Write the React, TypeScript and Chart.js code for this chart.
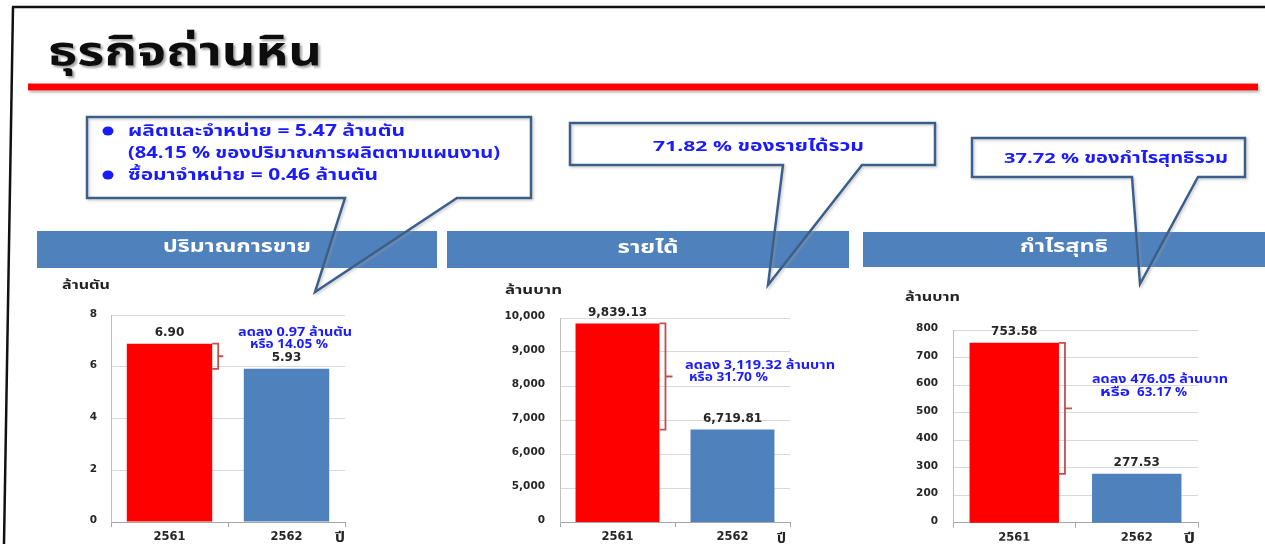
import React, { useEffect, useRef } from 'react';
import { Chart, registerables } from 'chart.js';
Chart.register(...registerables);

const years = ['2561', '2562'];
const salesValues = [6.9, 5.93];
const revenueValues = [9839.13, 6719.81];
const profitValues = [753.58, 277.53];
// axis [min, max, step]; the min tick is shown as "0" (broken axis in the original)
const salesAxis = [0, 8, 2];
const revenueAxis = [4000, 10000, 1000];
const profitAxis = [100, 800, 100];
const barColors = ['#ff0000', '#4f81bd'];

const THAI = "Tahoma, 'Noto Sans Thai', 'Loma', 'Garuda', 'Norasi', 'DejaVu Sans', sans-serif";
const NUM = "'DejaVu Sans', Verdana, sans-serif";

type Panel = {
  values: number[];
  axis: number[];
  fmt: (v: number) => string;
  left: number; top: number; width: number; height: number;
  plotLeft: number; plotRight: number; plotTop: number; plotBottom: number;
  labelPad: number;
  bracketOut: number; bracketTick: number;
};

const fmt2 = (v: number) => v.toFixed(2);
const fmtComma = (v: number) => v.toLocaleString('en-US', { minimumFractionDigits: 2, maximumFractionDigits: 2 });

const panels: Panel[] = [
  { values: salesValues, axis: salesAxis, fmt: fmt2, left: 40, top: 295, width: 320, height: 249,
    plotLeft: 111, plotRight: 345, plotTop: 312, plotBottom: 522, labelPad: 14, bracketOut: 6, bracketTick: 5 },
  { values: revenueValues, axis: revenueAxis, fmt: fmtComma, left: 490, top: 295, width: 320, height: 249,
    plotLeft: 560, plotRight: 790, plotTop: 318, plotBottom: 522, labelPad: 15, bracketOut: 6, bracketTick: 7 },
  { values: profitValues, axis: profitAxis, fmt: fmtComma, left: 880, top: 300, width: 340, height: 244,
    plotLeft: 953, plotRight: 1198, plotTop: 330, plotBottom: 526, labelPad: 15, bracketOut: 6, bracketTick: 7 },
];

function BarPanel({ p }: { p: Panel }) {
  const ref = useRef<HTMLCanvasElement>(null);
  useEffect(() => {
    if (!ref.current) return;
    const [min, max, step] = p.axis;
    const overlay = {
      id: 'overlay',
      afterDatasetsDraw(chart: any) {
        const ctx = chart.ctx;
        const meta = chart.getDatasetMeta(0);
        const ys = chart.scales.y;
        ctx.save();
        ctx.font = `bold 12px ${NUM}`;
        ctx.fillStyle = '#262626';
        ctx.textAlign = 'center';
        ctx.textBaseline = 'bottom';
        meta.data.forEach((bar: any, i: number) => {
          ctx.fillText(p.fmt(p.values[i]), bar.x, bar.y - 5);
        });
        const b0: any = meta.data[0];
        const x0 = b0.x + b0.width / 2;
        const yA = ys.getPixelForValue(p.values[0]);
        const yB = ys.getPixelForValue(p.values[1]);
        const xv = x0 + p.bracketOut;
        ctx.strokeStyle = '#c0504d';
        ctx.lineWidth = 1.8;
        ctx.beginPath();
        ctx.moveTo(x0, yA);
        ctx.lineTo(xv, yA);
        ctx.lineTo(xv, yB);
        ctx.lineTo(x0, yB);
        ctx.moveTo(xv, (yA + yB) / 2);
        ctx.lineTo(xv + p.bracketTick, (yA + yB) / 2);
        ctx.stroke();
        ctx.restore();
      },
    };
    const chart = new Chart(ref.current, {
      type: 'bar',
      data: {
        labels: years,
        datasets: [{ data: p.values, backgroundColor: barColors, borderWidth: 0, barPercentage: 0.73, categoryPercentage: 1 }],
      },
      options: {
        responsive: false,
        animation: false,
        layout: { padding: { top: p.plotTop - p.top, right: p.left + p.width - p.plotRight, left: 0, bottom: 0 } },
        plugins: { legend: { display: false }, tooltip: { enabled: false } },
        scales: {
          x: {
            grid: { display: true, drawOnChartArea: false, drawTicks: true, tickLength: 5, color: '#a6a6a6' },
            border: { color: '#a6a6a6' },
            ticks: { font: { family: NUM, size: 11.5, weight: 'bold' }, color: '#262626', padding: 3 },
            afterFit: (s: any) => { s.height = p.top + p.height - p.plotBottom; },
          },
          y: {
            min, max,
            ticks: {
              stepSize: step,
              font: { family: NUM, size: 10.5, weight: 'bold' },
              color: '#262626',
              padding: p.labelPad,
              labelOffset: -1.5,
              callback: (v: any) => (v === min ? '0' : Number(v).toLocaleString('en-US')),
            },
            grid: { color: '#d9d9d9', drawTicks: false },
            border: { color: '#bfbfbf' },
            afterFit: (s: any) => { s.width = p.plotLeft - p.left; },
          },
        },
      },
      plugins: [overlay],
    } as any);
    return () => chart.destroy();
  }, [p]);
  return (
    <canvas ref={ref} width={p.width} height={p.height}
      style={{ position: 'absolute', left: p.left, top: p.top, width: p.width, height: p.height }} />
  );
}

function T({ x, y, w, size, fill, children, anchor }: { x: number; y: number; w: number; size: number; fill: string; children: React.ReactNode; anchor?: string }) {
  return (
    <text x={x} y={y} fontSize={size} fill={fill} fontFamily={THAI} fontWeight="bold" dominantBaseline="central"
      textLength={w} lengthAdjust="spacingAndGlyphs" textAnchor={anchor || 'start'}>{children}</text>
  );
}

export default function App() {
  const blue = '#1a1aff';
  const callStroke = '#3a5f8b';
  const dark = '#222';
  return (
    <div style={{ position: 'absolute', left: 0, top: 0, width: 1265, height: 544, background: '#fff', overflow: 'hidden' }}>
      <svg width={1265} height={544} style={{ position: 'absolute', left: 0, top: 0 }}>
        <defs>
          <filter id="sh" x="-5%" y="-5%" width="110%" height="200%">
            <feDropShadow dx="1.5" dy="2" stdDeviation="1.2" floodColor="#888" floodOpacity="0.6" />
          </filter>
          <filter id="tsh" x="-5%" y="-10%" width="110%" height="130%">
            <feDropShadow dx="2" dy="2" stdDeviation="1.3" floodColor="#777" floodOpacity="0.7" />
          </filter>
        </defs>
        <line x1={13} y1={7} x2={4} y2={544} stroke="#111" strokeWidth={2.5} />
        <line x1={12} y1={7} x2={1265} y2={7} stroke="#111" strokeWidth={2.5} />
        <rect x={28} y={83.5} width={1230} height={7} fill="#ff0000" filter="url(#sh)" />
        <g filter="url(#tsh)">
          <text x={48} y={52} fontSize={41} fill="#111" fontFamily={THAI} fontWeight="bold" dominantBaseline="central"
            textLength={274} lengthAdjust="spacingAndGlyphs">ธุรกิจถ่านหิน</text>
        </g>
        <rect x={37} y={231} width={400} height={37} fill="#4f81bd" />
        <rect x={447} y={231} width={402} height={37} fill="#4f81bd" />
        <rect x={863} y={232} width={402} height={35} fill="#4f81bd" />
      </svg>

      {panels.map((p, i) => <BarPanel key={i} p={p} />)}

      <svg width={1265} height={544} style={{ position: 'absolute', left: 0, top: 0, pointerEvents: 'none' }}>
        <defs>
          <filter id="sh2" x="-5%" y="-5%" width="110%" height="120%">
            <feDropShadow dx="1.5" dy="1.5" stdDeviation="1" floodColor="#999" floodOpacity="0.5" />
          </filter>
        </defs>
        <T x={237} y={247} w={148} size={17} fill="#fff" anchor="middle">ปริมาณการขาย</T>
        <T x={648} y={248} w={61} size={17} fill="#fff" anchor="middle">รายได้</T>
        <T x={1064} y={247} w={88} size={17} fill="#fff" anchor="middle">กำไรสุทธิ</T>

        <g fill="none" stroke={callStroke} strokeWidth={2.5} strokeLinejoin="miter" filter="url(#sh2)">
          <path d="M87,117 H531 V198 H457 L315,292 L345,198 H87 Z" />
          <path d="M570,123 H935 V165 H862 L768,285 L783,165 H570 Z" />
          <path d="M972,138 H1245 V177 H1198 L1140,284 L1132,177 H972 Z" />
        </g>
        <ellipse cx={108} cy={131} rx={5.5} ry={4.5} fill={blue} />
        <ellipse cx={108} cy={175} rx={5.5} ry={4.5} fill={blue} />
        <T x={128} y={131} w={277} size={15.5} fill={blue}>ผลิตและจำหน่าย = 5.47 ล้านตัน</T>
        <T x={128} y={153} w={372} size={15.5} fill={blue}>(84.15 % ของปริมาณการผลิตตามแผนงาน)</T>
        <T x={128} y={175} w={250} size={15.5} fill={blue}>ซื้อมาจำหน่าย = 0.46 ล้านตัน</T>
        <T x={653} y={146} w={211} size={15} fill={blue}>71.82 % ของรายได้รวม</T>
        <T x={1004} y={158} w={224} size={15} fill={blue}>37.72 % ของกำไรสุทธิรวม</T>

        <T x={62} y={285} w={48} size={12.5} fill={dark}>ล้านตัน</T>
        <T x={505} y={290} w={57} size={12.5} fill={dark}>ล้านบาท</T>
        <T x={905} y={297} w={55} size={12.5} fill={dark}>ล้านบาท</T>

        <T x={335} y={537} w={10} size={14} fill={dark}>ปี</T>
        <T x={777} y={538} w={9} size={14} fill={dark}>ปี</T>
        <T x={1184} y={538} w={11} size={14} fill={dark}>ปี</T>

        <T x={238} y={332} w={114} size={11.5} fill={blue}>ลดลง 0.97 ล้านตัน</T>
        <T x={250} y={344} w={78} size={11.5} fill={blue}>หรือ 14.05 %</T>
        <T x={685} y={365} w={150} size={11.5} fill={blue}>ลดลง 3,119.32 ล้านบาท</T>
        <T x={689} y={377} w={79} size={11.5} fill={blue}>หรือ 31.70 %</T>
        <T x={1092} y={379} w={136} size={11.5} fill={blue}>ลดลง 476.05 ล้านบาท</T>
        <T x={1100} y={392} w={30} size={11.5} fill={blue}>หรือ</T>
        <T x={1137} y={392} w={50} size={11.5} fill={blue}>63.17 %</T>
      </svg>
    </div>
  );
}
